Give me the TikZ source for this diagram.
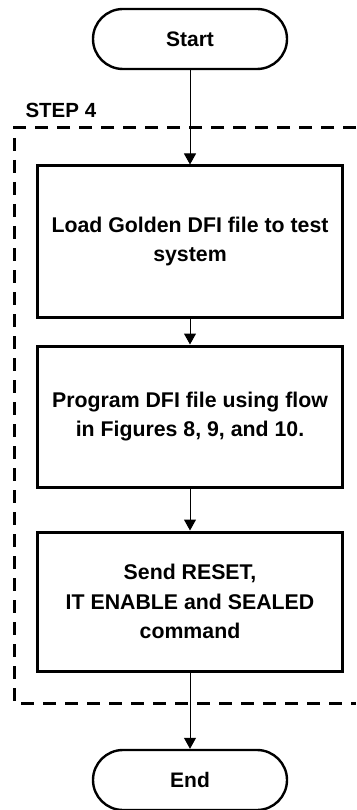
\documentclass[tikz,border=0pt]{standalone}
\usepackage{fontspec}
\setmainfont{Liberation Sans}
\usetikzlibrary{positioning,arrows.meta,calc}
\newcommand{\flowarrow}{-{Triangle[length=11pt,width=12pt]}}

\begin{document}
\begin{tikzpicture}[x=1pt,y=1pt,
    term/.style={draw,line width=2.4pt,rounded corners=30pt,minimum width=194pt,
      minimum height=60pt,font=\fontsize{21}{24}\selectfont\bfseries},
    stepbox/.style={draw,line width=3pt,minimum width=305pt,align=center,
      font=\fontsize{21.3}{29.5}\selectfont\bfseries},
    frame/.style={line width=3pt,dash pattern=on 13pt off 9pt}]
  \useasboundingbox (0,0) rectangle (356,-810);

  % terminals
  \node[term] (start) at (190,-39) {Start};
  \node[term] (end) at (190,-780) {End};

  % STEP 4 region
  \coordinate (frtr) at (356,-128);
  \coordinate (frtl) at (14,-128);
  \coordinate (frbl) at (14,-703);
  \coordinate (frbr) at (356,-703);
  \draw[frame] (frtr) -- (frtl) -- (frbl) -- (frbr);
  \node[anchor=west,font=\fontsize{20.5}{24}\selectfont\bfseries] (steplabel) at (22,-110) {STEP 4};

  \node[stepbox,minimum height=151pt] (load) at (190,-241.5) {Load Golden DFI file to test\\system};
  \node[stepbox,minimum height=141pt,below=26pt of load] (prog) {Program DFI file using flow\\in Figures 8, 9, and 10.};
  \node[stepbox,minimum height=139pt,below=42pt of prog] (send) {Send RESET,\\IT ENABLE and SEALED\\command};

  % connectors
  \draw[line width=1pt,\flowarrow] (start) -- (load);
  \draw[line width=1pt,\flowarrow] (load) -- (prog);
  \draw[line width=1pt,\flowarrow] (prog) -- (send);
  \draw[line width=1pt,\flowarrow] (send) -- (end);
\end{tikzpicture}
\end{document}
